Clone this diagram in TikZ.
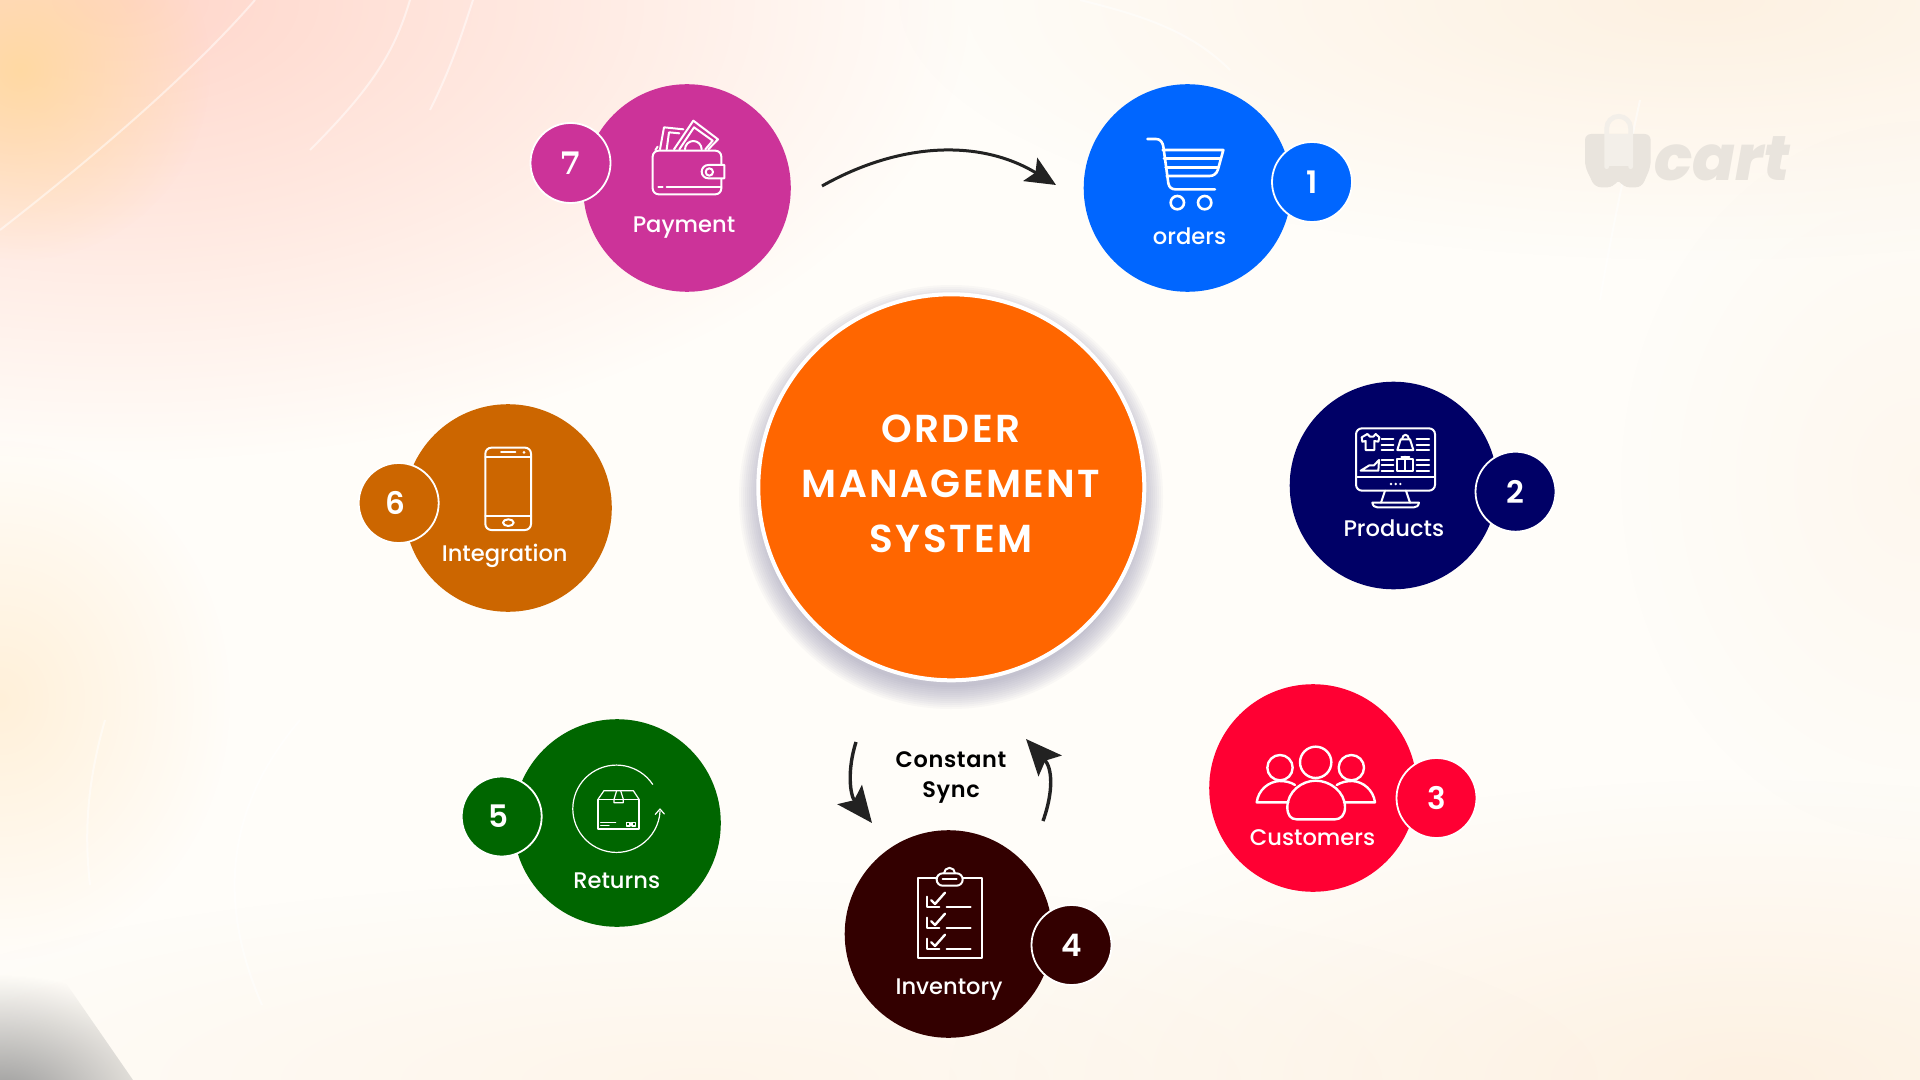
\documentclass[tikz,border=0pt]{standalone}
\usepackage{fontspec}
\usepackage{tikz}
\usetikzlibrary{arrows.meta,fadings}
\setmainfont{Poppins Medium}
\newfontfamily\titlefont[LetterSpace=6]{Poppins SemiBold}
\newfontfamily\syncfont[LetterSpace=3]{Poppins SemiBold}
\newfontfamily\numfont{Poppins SemiBold}
\newfontfamily\slabfont{DejaVu Serif}
\newfontfamily\markfont{Poppins ExtraBold}

\definecolor{bgbase}{HTML}{FFFDF9}
\definecolor{bgpink}{HTML}{FFCFC2}
\definecolor{bgorange}{HTML}{FFD99E}
\definecolor{bgcream}{HTML}{FDEEDC}
\definecolor{markgrey}{HTML}{E9E4DD}
\definecolor{marklight}{HTML}{F3EFE9}
\definecolor{ringshadow}{HTML}{8A88AA}
\definecolor{ordercol}{HTML}{0066FF}
\definecolor{productcol}{HTML}{000066}
\definecolor{customercol}{HTML}{FF0033}
\definecolor{stockcol}{HTML}{330000}
\definecolor{returncol}{HTML}{006600}
\definecolor{linkcol}{HTML}{CC6600}
\definecolor{paycol}{HTML}{CC3399}
\definecolor{hubcol}{HTML}{FF6600}
\definecolor{arrowcol}{HTML}{222222}

\tikzfading[name=softblob, inner color=transparent!0, outer color=transparent!100]

\tikzset{
	bigdisc/.style = {circle, inner sep=0pt, minimum size=103.8pt},
	badge/.style = {circle, inner sep=0pt, minimum size=40pt, draw=white, line width=0.9pt, text=white, font=\numfont\fontsize{15.5}{15.5}\selectfont},
	caption/.style = {anchor=base, inner sep=0pt, yshift=-0.5pt, text=white, font=\fontsize{11.3}{11.3}\selectfont},
	iconline/.style = {draw=white, line width=1pt, line cap=round, line join=round},
	streak/.style = {draw=white, line width=1pt, opacity=0.5},
	blob/.style = {path fading=softblob},
	flowarrow/.style = {draw=arrowcol, line width=1.7pt, -{Stealth[inset=3.5pt, length=18pt, width=15.5pt, fill=arrowcol]}}
}

\begin{document}
\begin{tikzpicture}[x=0.5pt, y=-0.5pt]
	\useasboundingbox (0,0) rectangle (1920,1080);

	%% background
	\fill[bgbase] (0,0) rectangle (1920,1080);
	\begin{scope}
		\clip (0,0) rectangle (1920,1080);
		\fill[bgpink, blob, opacity=0.85] (120,0) ellipse (850 and 460);
		\fill[bgorange, blob, opacity=0.9] (20,70) ellipse (190 and 190);
		\fill[bgorange, blob, opacity=0.35] (0,700) ellipse (230 and 260);
		\fill[bgcream, blob, opacity=0.8] (1700,0) ellipse (800 and 260);
		\fill[bgcream, blob, opacity=0.8] (1750,1080) ellipse (800 and 300);
		\fill[bgcream, blob, opacity=0.5] (700,1080) ellipse (900 and 200);
		\fill[bgcream, blob, opacity=0.35] (1920,480) ellipse (300 and 360);
		\begin{scope}
			\clip (0,900) -- (50,960) -- (133,1080) -- (0,1080) -- cycle;
			\fill[black!42, blob] (0,1105) ellipse (190 and 130);
		\end{scope}
		\draw[streak] (255,0) .. controls (190,75) and (90,160) .. (0,230);
		\draw[streak] (410,0) .. controls (395,50) and (375,85) .. (310,150);
		\draw[streak] (473,0) .. controls (460,40) and (450,70) .. (430,110);
		\draw[streak] (105,720) .. controls (85,790) and (85,840) .. (90,885);
		\draw[streak] (300,720) .. controls (215,820) and (225,920) .. (262,1005);
		\draw[streak] (1080,0) .. controls (1140,15) and (1190,30) .. (1230,70);
		\draw[streak] (1640,100) .. controls (1625,170) and (1610,240) .. (1600,300);
	\end{scope}

	%% watermark
	\begin{scope}[shift={(1560,100)}, scale=1/3]
		\fill[markgrey, rounded corners=3pt] (75,102) -- (272,102) -- (272,200) -- (245,262) -- (190,262) -- (175,236) -- (160,262) -- (105,262) -- (75,200) -- cycle;
		\fill[marklight] (145,102) rectangle (207,198);
		\draw[marklight, line width=2.4pt, line cap=round] (140,200) -- (140,85) arc[start angle=180, end angle=360, radius=36] -- (212,200);
	\end{scope}
	\node[anchor=base west, inner sep=0pt, text=markgrey, font=\markfont\itshape\fontsize{31.5}{31.5}\selectfont] (wmark) at (1654,181) {cart};

	%% hub
	\foreach \r in {190,192,...,212}
		\fill[ringshadow, opacity=0.05] (951,497) circle (\r);
	\node[circle, inner sep=0pt, minimum size=193pt, fill=hubcol, draw=white, line width=2pt] (hub) at (951.3,487.3) {};
	\node[inner sep=0pt, align=center, text=white, font=\titlefont\fontsize{19.5}{27.4}\selectfont] (hubtitle) at (951,484) {ORDER\\MANAGEMENT\\SYSTEM};

	%% discs and badges
	\node[bigdisc, fill=paycol] (payment) at (687,188) {};
	\node[bigdisc, fill=ordercol] (orders) at (1187.5,188) {};
	\node[bigdisc, fill=productcol] (products) at (1393.5,485.5) {};
	\node[bigdisc, fill=customercol] (customers) at (1313,788) {};
	\node[bigdisc, fill=stockcol] (inventory) at (948.5,934) {};
	\node[bigdisc, fill=returncol] (returns) at (617,823) {};
	\node[bigdisc, fill=linkcol] (integration) at (508,508) {};

	\node[badge, fill=ordercol] (badgeone) at (1312,182) {1};
	\node[badge, fill=productcol] (badgetwo) at (1515.5,491.7) {2};
	\node[badge, fill=customercol] (badgethree) at (1436.5,798) {3};
	\node[badge, fill=stockcol] (badgefour) at (1071.5,945) {\raisebox{-1pt}{4}};
	\node[badge, fill=returncol] (badgefive) at (501.7,816.5) {\kern-3.5pt 5};
	\node[badge, fill=linkcol] (badgesix) at (398.7,503) {\kern-3pt 6};
	\node[badge, fill=paycol, font=\slabfont\bfseries\fontsize{15.5}{15.5}\selectfont] (badgeseven) at (570.5,163) {7};

	\node[caption] (paytext) at (684,232) {Payment};
	\node[caption] (ordertext) at (1189.5,244) {orders};
	\node[caption] (producttext) at (1393.8,535) {Products};
	\node[caption] (customertext) at (1312.5,844) {Customers};
	\node[caption] (stocktext) at (949,993) {Inventory};
	\node[caption] (returntext) at (616.7,887) {Returns};
	\node[caption] (linktext) at (504.7,560) {Integration};

	%% arrows
	\coordinate (paystart) at (822,186);
	\coordinate (orderend) at (1056,185);
	\draw[flowarrow, line width=1.5pt, -{Stealth[inset=3pt, length=15pt, width=13.5pt, fill=arrowcol]}] (paystart) .. controls (900,142) and (980,139) .. (orderend);
	\coordinate (syncleftstart) at (856,742);
	\coordinate (syncleftend) at (872,823);
	\coordinate (syncrightstart) at (1043,821);
	\coordinate (syncrightend) at (1026,739);
	\draw[flowarrow] (syncleftstart) .. controls (847,770) and (850,795) .. (syncleftend);
	\draw[flowarrow] (syncrightstart) .. controls (1054,790) and (1052,768) .. (syncrightend);
	\node[inner sep=0pt, align=center, text=black, font=\syncfont\fontsize{11.2}{15}\selectfont] (synctext) at (951,778) {Constant\\Sync};

	%% wallet
	\begin{scope}[shift={(520,70)}, scale=1/3]
		\draw[iconline, rounded corners=3pt] (398,242) rectangle (604,373);
		\draw[iconline] (406,240) -- (413,230);
		\draw[iconline] (420,238) -- (432,172) -- (490,178);
		\draw[iconline] (440,238) -- (447,187) -- (478,190);
		\draw[iconline] (462,238) -- (520,152) -- (594,208) -- (565,238);
		\draw[iconline] (478,238) -- (522,172) -- (578,212) -- (556,238);
		\draw[iconline] (495,238) arc[start angle=180, end angle=360, radius=25];
		\draw[iconline, fill=paycol] (613,285) -- (565,285) arc[start angle=-90, end angle=-270, radius=20] -- (613,325) -- cycle;
		\draw[iconline] (568,306) circle (11);
		\draw[iconline] (415,350) -- (428,350);
		\draw[iconline] (440,350) -- (604,350);
	\end{scope}

	%% cart
	\begin{scope}[shift={(1070,70)}, scale=1/3]
		\draw[iconline, line width=1.3pt] (232,207) -- (258,207) .. controls (272,207) and (278,218) .. (280,230) -- (295,340) .. controls (297,352) and (305,358) .. (316,358) -- (435,358);
		\draw[iconline, line width=1.3pt] (278,240) -- (460,240) -- (444,298) .. controls (440,312) and (430,318) .. (418,318) -- (290,318);
		\draw[iconline, line width=1.3pt] (282,265) -- (452,265);
		\draw[iconline, line width=1.3pt] (287,292) -- (445,292);
		\draw[iconline, line width=1.3pt] (322,398) circle (20);
		\draw[iconline, line width=1.3pt] (404,398) circle (20);
	\end{scope}

	%% monitor
	\begin{scope}[shift={(1280,380)}, scale=1/3]
		\draw[iconline, rounded corners=3pt] (228,145) rectangle (465,332);
		\draw[iconline] (228,292) -- (465,292);
		\foreach \x in {333,347,361}
			\fill[white] (\x,312) circle (4);
		\draw[iconline] (315,332) -- (303,368);
		\draw[iconline] (378,332) -- (390,368);
		\draw[iconline] (277,368) -- (417,368) .. controls (415,378) and (410,382) .. (402,382) -- (292,382) .. controls (284,382) and (279,378) .. (277,368) -- cycle;
		\draw[iconline] (245,172) -- (262,162) -- (270,170) -- (280,170) -- (287,162) -- (298,172) -- (295,185) -- (283,183) -- (283,210) -- (257,210) -- (257,183) -- (247,185) -- cycle;
		\draw[iconline] (352,210) -- (362,178) -- (390,178) -- (400,210) -- cycle;
		\draw[iconline] (366,178) .. controls (368,160) and (385,160) .. (387,178);
		\draw[iconline] (242,272) -- (295,272) -- (297,240) -- (282,256) -- (268,256) -- cycle;
		\draw[iconline] (352,238) rectangle (400,272);
		\draw[iconline] (376,230) -- (376,272);
		\draw[iconline] (364,230) -- (388,230);
		\foreach \y in {178,194,210,240,256,272} {
			\draw[iconline] (305,\y) -- (340,\y);
			\draw[iconline] (410,\y) -- (447,\y);
		}
	\end{scope}

	%% people
	\begin{scope}[shift={(1220,720)}, scale=1/3]
		\draw[iconline, line width=1.2pt] (287,127) circle (47);
		\draw[iconline, line width=1.2pt] (180,143) circle (38);
		\draw[iconline, line width=1.2pt] (394,143) circle (38);
		\draw[iconline, line width=1.2pt] (202,262) .. controls (202,215) and (245,182) .. (287,182) .. controls (330,182) and (375,215) .. (375,262) .. controls (375,285) and (362,298) .. (345,298) -- (230,298) .. controls (212,298) and (202,285) .. (202,262) -- cycle;
		\draw[iconline, line width=1.2pt] (205,247) -- (110,247) .. controls (115,210) and (145,185) .. (178,183) .. controls (195,183) and (212,186) .. (225,195);
		\draw[iconline, line width=1.2pt] (372,247) -- (465,247) .. controls (460,210) and (430,185) .. (397,183) .. controls (380,183) and (365,186) .. (350,195);
	\end{scope}

	%% clipboard
	\begin{scope}[shift={(820,720)}, scale=1/3]
		\draw[iconline] (293,475) rectangle (485,715);
		\draw[iconline, fill=stockcol] (372,460) arc[start angle=180, end angle=360, radius=16.5];
		\draw[iconline, fill=stockcol, rounded corners=3pt] (350,460) rectangle (428,497);
		\draw[iconline] (368,478) -- (410,478);
		\foreach \y in {0,63,126} {
			\draw[iconline] (322,\y+530) -- (322,\y+562) -- (358,\y+562);
			\draw[iconline, line width=1.2pt] (334,\y+541) -- (345,\y+552) -- (375,\y+518);
			\draw[iconline] (380,\y+562) -- (452,\y+562);
		}
	\end{scope}

	%% returns box
	\begin{scope}[shift={(460,730)}, scale=1/3]
		\draw[iconline, line width=0.6pt] (578,163) arc[start angle=-34, end angle=-357, radius=131];
		\draw[iconline, line width=0.6pt] (586,253) -- (600,237) -- (613,252);
		\draw[iconline, line width=0.6pt] (414,208) rectangle (537,297);
		\draw[iconline, line width=0.6pt] (414,208) -- (432,182) -- (520,182) -- (537,208);
		\draw[iconline, line width=0.6pt] (470,182) -- (462,208) -- (462,218) -- (490,218) -- (490,208) -- (482,182);
		\draw[iconline, line width=0.6pt] (462,208) -- (490,208);
		\draw[iconline, line width=0.6pt] (422,278) -- (467,278);
		\draw[iconline, line width=0.6pt] (422,287) -- (447,287);
		\draw[iconline, line width=0.6pt] (500,277) rectangle (510,288);
		\draw[iconline, line width=0.6pt] (516,277) rectangle (526,288);
	\end{scope}

	%% phone
	\begin{scope}[shift={(360,420)}, scale=1/3]
		\draw[iconline, rounded corners=3pt] (376,83) rectangle (513,330);
		\draw[iconline] (376,112) -- (513,112);
		\draw[iconline] (376,288) -- (513,288);
		\draw[iconline] (423,97) -- (466,97);
		\fill[white] (492,97) circle (4.5);
		\draw[iconline] (445,308) ellipse (16 and 10);
	\end{scope}
\end{tikzpicture}
\end{document}
